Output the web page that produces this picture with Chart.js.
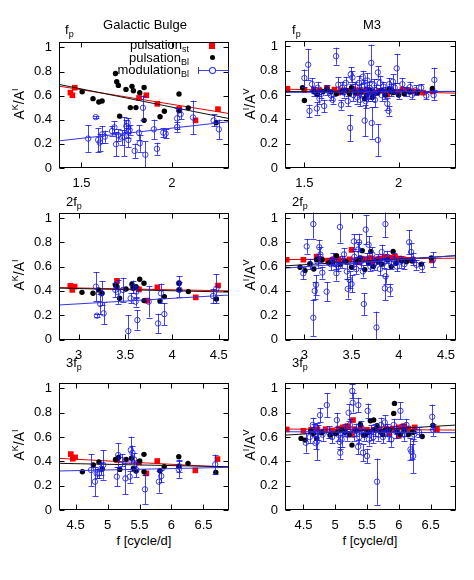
<!DOCTYPE html>
<html>
<head>
<meta charset="utf-8">
<script src="https://cdn.jsdelivr.net/npm/chart.js@4.4.1/dist/chart.umd.min.js"></script>
<style>
  body { margin: 0; background: #fff; }
  #page { position: relative; width: 474px; height: 580px; font-family: "Liberation Sans", Arial, sans-serif; color: #000; }
  canvas { position: absolute; }
  .lbl { position: absolute; font-size: 13px; white-space: nowrap; line-height: 15px; }
  .c { transform: translate(-50%, -50%); }
  .ylab { position: absolute; font-size: 14px; white-space: nowrap; transform: translate(-50%, -50%) rotate(-90deg); }
  .sub { font-size: 9px; position: relative; top: 3px; }
  .sup { font-size: 9px; position: relative; top: -6px; }
  .leg { position: absolute; right: 285px; font-size: 13px; text-align: right; white-space: nowrap; line-height: 13px; }
  .mk { position: absolute; }
</style>
</head>
<body>
<div id="page">
  <canvas id="bulgeF1" width="237" height="190" style="left:0;top:0"></canvas>
  <canvas id="m3F1" width="237" height="190" style="left:237px;top:0"></canvas>
  <canvas id="bulgeF2" width="237" height="170" style="left:0;top:190px"></canvas>
  <canvas id="m3F2" width="237" height="170" style="left:237px;top:190px"></canvas>
  <canvas id="bulgeF3" width="237" height="170" style="left:0;top:360px"></canvas>
  <canvas id="m3F3" width="237" height="170" style="left:237px;top:360px"></canvas>

  <!-- judul dan label -->
  <div class="lbl c" style="left:145px;top:24px">Galactic Bulge</div>
  <div class="lbl c" style="left:372px;top:24px">M3</div>
  <div class="lbl" style="left:65px;top:22px">f<span class="sub">p</span></div>
  <div class="lbl" style="left:292px;top:22px">f<span class="sub">p</span></div>
  <div class="lbl" style="left:66px;top:194px">2f<span class="sub">p</span></div>
  <div class="lbl" style="left:292px;top:194px">2f<span class="sub">p</span></div>
  <div class="lbl" style="left:66px;top:355px">3f<span class="sub">p</span></div>
  <div class="lbl" style="left:292px;top:355px">3f<span class="sub">p</span></div>

  <div class="ylab" style="left:19px;top:104px">A<span class="sup">K</span>/A<span class="sup">I</span></div>
  <div class="ylab" style="left:19px;top:275px">A<span class="sup">K</span>/A<span class="sup">I</span></div>
  <div class="ylab" style="left:19px;top:445px">A<span class="sup">K</span>/A<span class="sup">I</span></div>
  <div class="ylab" style="left:250px;top:104px">A<span class="sup">I</span>/A<span class="sup">V</span></div>
  <div class="ylab" style="left:250px;top:275px">A<span class="sup">I</span>/A<span class="sup">V</span></div>
  <div class="ylab" style="left:250px;top:445px">A<span class="sup">I</span>/A<span class="sup">V</span></div>

  <div class="lbl c" style="left:144px;top:540px">f [cycle/d]</div>
  <div class="lbl c" style="left:370px;top:540px">f [cycle/d]</div>

  <!-- legenda -->
  <div class="leg" style="top:38px">pulsation<span class="sub">st</span></div>
  <div class="leg" style="top:51px">pulsation<span class="sub">Bl</span></div>
  <div class="leg" style="top:63px">modulation<span class="sub">Bl</span></div>
  <div class="mk" style="left:209px;top:43px;width:6px;height:6px;background:#f00"></div>
  <div class="mk" style="left:210px;top:55px;width:5px;height:5px;border-radius:50%;background:#000"></div>
  <div class="mk" style="left:198px;top:70px;width:31px;height:1px;background:rgba(20,20,230,0.8)"></div>
  <div class="mk" style="left:198px;top:67px;width:1px;height:7px;background:rgba(20,20,230,0.8)"></div>
  <div class="mk" style="left:228px;top:67px;width:1px;height:7px;background:rgba(20,20,230,0.8)"></div>
  <div class="mk" style="left:209px;top:67px;width:5px;height:5px;border-radius:50%;border:1px solid rgba(20,20,230,0.9);background:#fff"></div>
</div>

<script>
// ===== Data: Galactic Bulge, f_p =====
const bulgeF1St = [[1.439,0.625],[1.45,0.603],[1.463,0.666],[1.818,0.581],[1.858,0.603],[1.919,0.532],[2.04,0.49],[2.13,0.395],[2.254,0.488]];
const bulgeF1Bl = [[1.504,0.633],[1.564,0.575],[1.596,0.548],[1.614,0.556],[1.688,0.784],[1.695,0.715],[1.704,0.685],[1.711,0.43],[1.746,0.652],[1.77,0.501],[1.779,0.677],[1.787,0.641],[1.801,0.501],[1.822,0.625],[1.846,0.668],[1.846,0.395],[1.934,0.425],[1.958,0.471],[2.039,0.614],[2.039,0.474],[2.09,0.499],[2.244,0.375]];
const bulgeF1Mod = [[1.537,0.244,0.11],[1.579,0.422,0.01],[1.592,0.233,0.1],[1.601,0.211,0.07],[1.614,0.279,0.07],[1.629,0.26,0.05],[1.669,0.307,0.04],[1.682,0.337,0.05],[1.691,0.197,0.1],[1.702,0.271,0.05],[1.724,0.252,0.06],[1.733,0.26,0.16],[1.748,0.348,0.05],[1.755,0.375,0.04],[1.757,0.301,0.05],[1.766,0.315,0.04],[1.759,0.233,0.06],[1.794,0.142,0.06],[1.818,0.293,0.06],[1.822,0.205,0.07],[1.84,0.499,0.1],[1.853,0.11,0.11],[1.9,0.321,0.08],[1.917,0.159,0.05],[1.952,0.293,0.04],[1.965,0.285,0.04],[2.029,0.34,0.04],[2.028,0.411,0.09],[2.048,0.447,0.04],[2.116,0.419,0.14],[2.23,0.395,0.05],[2.259,0.321,0.08]];
const bulgeF1Fit = { st: [[1.376,0.679],[2.315,0.452]], bl: [[1.376,0.693],[2.315,0.41]], mod: [[1.376,0.225],[2.315,0.384]] };

// ===== Data: M3, f_p =====
const m3F1St = [[1.41,0.652],[1.5,0.64],[1.55,0.645],[1.58,0.64],[1.62,0.66],[1.66,0.645],[1.68,0.62],[1.7,0.64],[1.73,0.635],[1.76,0.65],[1.78,0.615],[1.79,0.64],[1.81,0.63],[1.83,0.645],[1.86,0.63],[1.88,0.62],[1.9,0.635],[1.93,0.63],[1.94,0.605],[1.96,0.64],[1.99,0.625],[2.02,0.645],[2.05,0.64],[2.08,0.63],[2.1,0.625],[2.13,0.62],[2.18,0.63]];
const m3F1Bl = [[1.49,0.66],[1.5,0.555],[1.55,0.63],[1.57,0.605],[1.6,0.63],[1.62,0.65],[1.64,0.625],[1.67,0.61],[1.7,0.63],[1.72,0.64],[1.74,0.61],[1.75,0.66],[1.77,0.62],[1.8,0.63],[1.82,0.57],[1.83,0.6],[1.85,0.64],[1.86,0.58],[1.87,0.61],[1.89,0.62],[1.91,0.64],[1.93,0.6],[1.95,0.65],[1.96,0.63],[1.97,0.62],[2.0,0.6],[2.03,0.61],[2.06,0.625],[2.1,0.62],[2.18,0.655]];
const m3F1Mod = [[1.5,0.74,0.07],[1.52,0.85,0.13],[1.527,0.47,0.05],[1.54,0.69,0.05],[1.55,0.63,0.04],[1.566,0.49,0.05],[1.57,0.66,0.05],[1.58,0.57,0.04],[1.59,0.61,0.03],[1.605,0.51,0.05],[1.62,0.64,0.04],[1.64,0.6,0.04],[1.65,0.56,0.03],[1.668,0.92,0.07],[1.68,0.685,0.06],[1.695,0.52,0.04],[1.7,0.66,0.05],[1.71,0.62,0.04],[1.72,0.7,0.05],[1.73,0.55,0.04],[1.743,0.33,0.11],[1.746,0.77,0.06],[1.755,0.745,0.05],[1.76,0.6,0.05],[1.77,0.67,0.04],[1.78,0.58,0.05],[1.79,0.7,0.06],[1.795,0.56,0.05],[1.8,0.64,0.05],[1.81,0.75,0.05],[1.814,0.68,0.04],[1.82,0.39,0.13],[1.825,0.55,0.06],[1.83,0.62,0.05],[1.835,0.72,0.06],[1.84,0.59,0.04],[1.845,0.66,0.05],[1.855,0.865,0.15],[1.858,0.37,0.13],[1.86,0.6,0.05],[1.87,0.68,0.05],[1.875,0.56,0.06],[1.88,0.64,0.04],[1.89,0.786,0.05],[1.89,0.23,0.13],[1.9,0.7,0.06],[1.91,0.6,0.05],[1.92,0.67,0.04],[1.93,0.62,0.05],[1.94,0.53,0.05],[1.947,0.47,0.04],[1.95,0.69,0.05],[1.96,0.64,0.05],[1.97,0.71,0.06],[1.98,0.66,0.04],[1.99,0.82,0.12],[2.0,0.61,0.04],[2.02,0.69,0.05],[2.04,0.63,0.04],[2.06,0.665,0.04],[2.07,0.6,0.03],[2.09,0.64,0.04],[2.12,0.66,0.03],[2.147,0.595,0.03],[2.186,0.6,0.04],[2.19,0.725,0.1]];
const m3F1Fit = { st: [[1.397,0.649],[2.305,0.616]], bl: [[1.397,0.63],[2.305,0.63]], mod: [[1.397,0.622],[2.305,0.63]] };

// ===== Data: Galactic Bulge, 2f_p =====
const bulgeF2St = [[2.911,0.441],[2.932,0.408],[2.957,0.435],[3.411,0.482],[3.646,0.413],[3.736,0.32],[3.843,0.43],[4.254,0.347],[4.493,0.444]];
const bulgeF2Bl = [[3.036,0.388],[3.154,0.38],[3.214,0.408],[3.25,0.38],[3.393,0.449],[3.411,0.435],[3.439,0.339],[3.507,0.416],[3.571,0.455],[3.586,0.421],[3.614,0.435],[3.654,0.496],[3.7,0.463],[3.7,0.32],[3.871,0.317],[3.918,0.353],[4.075,0.463],[4.075,0.408],[4.175,0.394],[4.475,0.333]];
const bulgeF2Mod = [[3.186,0.435,0.12],[3.196,0.196,0.01],[3.232,0.292,0.08],[3.245,0.38,0.1],[3.268,0.215,0.09],[3.393,0.408,0.06],[3.42,0.39,0.1],[3.475,0.408,0.1],[3.532,0.069,0.13],[3.557,0.339,0.04],[3.582,0.435,0.05],[3.61,0.311,0.04],[3.618,0.394,0.05],[3.629,0.16,0.08],[3.75,0.311,0.13],[3.85,0.132,0.08],[3.882,0.38,0.08],[3.918,0.209,0.09],[4.075,0.463,0.06],[4.08,0.41,0.06],[4.439,0.358,0.06],[4.475,0.419,0.12]];
const bulgeF2Fit = { st: [[2.79,0.427],[4.61,0.4]], bl: [[2.79,0.423],[4.61,0.39]], mod: [[2.79,0.284],[4.61,0.366]] };

// ===== Data: M3, 2f_p =====
const m3F2St = [[2.813,0.656],[2.99,0.656],[3.13,0.683],[3.18,0.66],[3.25,0.65],[3.3,0.655],[3.36,0.66],[3.42,0.65],[3.48,0.66],[3.5,0.738],[3.55,0.655],[3.58,0.635],[3.6,0.665],[3.65,0.66],[3.7,0.67],[3.72,0.64],[3.75,0.66],[3.8,0.665],[3.85,0.68],[3.88,0.67],[3.92,0.675],[3.96,0.68],[4.0,0.665],[4.05,0.66],[4.1,0.655],[4.15,0.655],[4.35,0.65]];
const m3F2Bl = [[2.954,0.595],[3.007,0.567],[3.06,0.623],[3.1,0.58],[3.13,0.656],[3.19,0.656],[3.26,0.63],[3.3,0.635],[3.34,0.69],[3.38,0.62],[3.44,0.64],[3.5,0.595],[3.55,0.64],[3.59,0.67],[3.613,0.73],[3.64,0.575],[3.68,0.63],[3.704,0.724],[3.73,0.6],[3.78,0.64],[3.82,0.62],[3.88,0.655],[3.92,0.6],[3.94,0.724],[3.97,0.63],[4.03,0.645],[4.08,0.64],[4.14,0.645],[4.24,0.62],[4.345,0.67]];
const m3F2Mod = [[2.99,0.545,0.05],[3.025,0.766,0.06],[3.06,0.62,0.04],[3.095,0.179,0.15],[3.095,0.95,0.12],[3.11,0.4,0.07],[3.123,0.45,0.08],[3.14,0.64,0.05],[3.158,0.76,0.06],[3.17,0.7,0.06],[3.19,0.55,0.05],[3.236,0.394,0.08],[3.28,0.62,0.05],[3.3,0.66,0.05],[3.33,0.62,0.04],[3.34,0.545,0.06],[3.36,0.6,0.04],[3.377,0.926,0.13],[3.4,0.64,0.05],[3.42,0.7,0.05],[3.45,0.56,0.06],[3.46,0.416,0.08],[3.48,0.49,0.07],[3.5,0.457,0.07],[3.51,0.62,0.04],[3.525,0.807,0.06],[3.53,0.68,0.05],[3.55,0.58,0.04],[3.57,0.74,0.06],[3.58,0.8,0.07],[3.6,0.64,0.05],[3.62,0.56,0.05],[3.63,0.292,0.09],[3.65,0.904,0.12],[3.66,0.66,0.05],[3.68,0.78,0.07],[3.7,0.6,0.04],[3.72,0.7,0.06],[3.74,0.62,0.05],[3.764,0.099,0.13],[3.78,0.66,0.04],[3.8,0.58,0.05],[3.82,0.72,0.06],[3.84,0.63,0.04],[3.852,0.421,0.1],[3.859,0.95,0.11],[3.86,0.52,0.06],[3.88,0.68,0.05],[3.905,0.41,0.05],[3.92,0.62,0.04],[3.95,0.66,0.05],[3.98,0.6,0.04],[4.02,0.64,0.05],[4.06,0.62,0.04],[4.11,0.8,0.1],[4.13,0.72,0.07],[4.15,0.66,0.05],[4.187,0.614,0.04],[4.246,0.595,0.04],[4.363,0.656,0.06]];
const m3F2Fit = { st: [[2.795,0.658],[4.606,0.669]], bl: [[2.795,0.606],[4.606,0.689]], mod: [[2.795,0.587],[4.606,0.691]] };

// ===== Data: Galactic Bulge, 3f_p =====
const bulgeF3St = [[4.425,0.46],[4.456,0.422],[4.492,0.433],[5.15,0.411],[5.492,0.392],[5.606,0.301],[5.777,0.403],[6.373,0.326],[6.72,0.419]];
const bulgeF3Bl = [[4.606,0.315],[4.777,0.37],[4.865,0.395],[4.917,0.337],[5.124,0.416],[5.171,0.433],[5.192,0.334],[5.29,0.416],[5.373,0.427],[5.404,0.342],[5.446,0.32],[5.503,0.403],[5.57,0.458],[5.57,0.315],[5.819,0.323],[5.886,0.356],[6.114,0.438],[6.114,0.356],[6.259,0.384],[6.694,0.31]];
const bulgeF3Mod = [[4.741,0.329,0.13],[4.803,0.233,0.12],[4.829,0.301,0.04],[4.865,0.301,0.04],[4.9,0.34,0.05],[4.933,0.37,0.12],[5.145,0.274,0.08],[5.166,0.452,0.1],[5.223,0.411,0.05],[5.28,0.26,0.13],[5.347,0.274,0.05],[5.363,0.493,0.11],[5.39,0.47,0.06],[5.415,0.416,0.05],[5.451,0.329,0.06],[5.585,0.17,0.12],[5.803,0.233,0.09],[5.84,0.279,0.05],[6.114,0.334,0.07],[6.12,0.36,0.05],[6.684,0.375,0.08]];
const bulgeF3Fit = { st: [[4.24,0.425],[6.9,0.351]], bl: [[4.24,0.384],[6.9,0.356]], mod: [[4.24,0.321],[6.9,0.351]] };

// ===== Data: M3, 3f_p =====
const m3F3St = [[4.237,0.663],[4.5,0.652],[4.62,0.66],[4.72,0.665],[4.85,0.665],[4.95,0.655],[5.05,0.67],[5.12,0.68],[5.19,0.69],[5.25,0.62],[5.28,0.74],[5.3,0.665],[5.4,0.67],[5.5,0.66],[5.6,0.66],[5.7,0.665],[5.8,0.67],[5.85,0.63],[5.9,0.67],[6.0,0.68],[6.0,0.61],[6.08,0.69],[6.15,0.67],[6.25,0.68],[6.6,0.665]];
const m3F3Bl = [[4.463,0.589],[4.526,0.575],[4.616,0.649],[4.658,0.63],[4.71,0.589],[4.79,0.636],[4.92,0.616],[5.0,0.63],[5.026,0.636],[5.105,0.658],[5.15,0.64],[5.22,0.62],[5.263,0.534],[5.33,0.65],[5.395,0.704],[5.447,0.616],[5.48,0.62],[5.52,0.64],[5.553,0.734],[5.605,0.74],[5.62,0.66],[5.658,0.693],[5.711,0.641],[5.75,0.62],[5.79,0.658],[5.85,0.66],[5.92,0.795],[5.932,0.877],[5.974,0.641],[6.026,0.62],[6.08,0.65],[6.15,0.62],[6.21,0.641],[6.23,0.64],[6.368,0.605],[6.537,0.696]];
const m3F3Mod = [[4.537,0.553,0.08],[4.6,0.6,0.05],[4.647,0.7,0.06],[4.66,0.66,0.05],[4.69,0.55,0.05],[4.71,0.562,0.15],[4.73,0.64,0.06],[4.76,0.78,0.06],[4.8,0.62,0.05],[4.868,0.863,0.1],[4.9,0.64,0.05],[4.95,0.6,0.05],[5.026,0.74,0.06],[5.05,0.62,0.05],[5.07,0.56,0.06],[5.079,0.471,0.05],[5.1,0.58,0.06],[5.15,0.66,0.05],[5.18,0.62,0.05],[5.21,0.8,0.07],[5.23,0.7,0.05],[5.268,0.98,0.06],[5.274,0.882,0.08],[5.29,0.62,0.05],[5.32,0.66,0.05],[5.36,0.52,0.06],[5.363,0.863,0.06],[5.38,0.6,0.05],[5.41,0.68,0.05],[5.437,0.471,0.07],[5.46,0.62,0.05],[5.5,0.444,0.06],[5.51,0.816,0.06],[5.53,0.58,0.05],[5.56,0.64,0.06],[5.6,0.6,0.05],[5.63,0.66,0.05],[5.658,0.233,0.19],[5.68,0.62,0.05],[5.72,0.7,0.06],[5.75,0.6,0.05],[5.78,0.72,0.06],[5.82,0.66,0.05],[5.85,0.62,0.05],[5.88,0.58,0.06],[5.92,0.7,0.05],[5.96,0.64,0.05],[6.026,0.816,0.07],[6.05,0.66,0.05],[6.08,0.62,0.05],[6.12,0.7,0.05],[6.184,0.499,0.09],[6.2,0.48,0.06],[6.226,0.444,0.14],[6.24,0.62,0.05],[6.32,0.64,0.04],[6.526,0.767,0.1],[6.54,0.66,0.05]];
const m3F3Fit = { st: [[4.21,0.666],[6.9,0.658]], bl: [[4.21,0.616],[6.9,0.699]], mod: [[4.21,0.644],[6.9,0.636]] };

// tick labels
const yTickVals = [0, 0.2, 0.4, 0.6, 0.8, 1];
const xTicksF1 = [1.5, 2];
const xTicksF2 = [3, 3.5, 4, 4.5];
const xTicksF3 = [4.5, 5, 5.5, 6, 6.5];

const RED = "#f00";
const BLACK = "#000";
const BLUE = "rgba(20,20,230,0.8)";

// Plugin: error bar vertikal untuk data modulation
const errorBarPlugin = {
  id: "errorBars",
  beforeDatasetDraw(chart, args) {
    const ds = chart.data.datasets[args.index];
    if (!ds.errorBars) return;
    const { ctx, chartArea: a } = chart;
    const xs = chart.scales.x, ys = chart.scales.y;
    ctx.save();
    ctx.beginPath();
    ctx.rect(a.left, a.top, a.right - a.left, a.bottom - a.top);
    ctx.clip();
    ctx.strokeStyle = BLUE;
    ctx.lineWidth = 1;
    ds.data.forEach(p => {
      const x = Math.round(xs.getPixelForValue(p.x)) + 0.5;
      const y1 = ys.getPixelForValue(p.y - p.err);
      const y2 = ys.getPixelForValue(p.y + p.err);
      ctx.beginPath();
      ctx.moveTo(x, y1); ctx.lineTo(x, y2);
      ctx.moveTo(x - 3, Math.round(y1) + 0.5); ctx.lineTo(x + 3, Math.round(y1) + 0.5);
      ctx.moveTo(x - 3, Math.round(y2) + 0.5); ctx.lineTo(x + 3, Math.round(y2) + 0.5);
      ctx.stroke();
    });
    ctx.restore();
  }
};

// Plugin: bingkai dan tick ke dalam (gaya gnuplot)
const framePlugin = {
  id: "frame",
  afterDraw(chart) {
    const { ctx, chartArea: a } = chart;
    const xs = chart.scales.x, ys = chart.scales.y;
    const L = Math.round(a.left) + 0.5, R = Math.round(a.right) - 0.5;
    const T = Math.round(a.top) + 0.5, B = Math.round(a.bottom) - 0.5;
    ctx.save();
    ctx.strokeStyle = "#000";
    ctx.lineWidth = 1;
    ctx.strokeRect(L, T, R - L, B - T);
    ctx.beginPath();
    xs.ticks.forEach(t => {
      const x = Math.round(xs.getPixelForValue(t.value)) + 0.5;
      ctx.moveTo(x, B); ctx.lineTo(x, B - 5);
      ctx.moveTo(x, T); ctx.lineTo(x, T + 5);
    });
    ys.ticks.forEach(t => {
      const y = Math.round(ys.getPixelForValue(t.value)) + 0.5;
      ctx.moveTo(L, y); ctx.lineTo(L + 5, y);
      ctx.moveTo(R, y); ctx.lineTo(R - 5, y);
    });
    ctx.stroke();
    ctx.restore();
  }
};

const toXY = arr => arr.map(p => ({ x: p[0], y: p[1] }));

// Membuat satu panel grafik
function makePanel(id, st, bl, mod, fit, xMin, xMax, xTicks, layout) {
  const ctx = document.getElementById(id).getContext("2d");
  const fitLine = (pts, color, order) => ({
    data: toXY(pts), showLine: true, borderColor: color, borderWidth: 1,
    pointRadius: 0, fill: false, order: order
  });
  return new Chart(ctx, {
    type: "scatter",
    data: {
      datasets: [
        { data: toXY(st), pointStyle: "rect", pointRadius: 4, backgroundColor: RED, borderColor: RED, borderWidth: 0, order: 6 },
        fitLine(fit.st, "#e00000", 5),
        { data: toXY(bl), pointStyle: "circle", pointRadius: 2.7, backgroundColor: BLACK, borderColor: BLACK, borderWidth: 0, order: 4 },
        fitLine(fit.bl, "#111", 3),
        { data: mod.map(p => ({ x: p[0], y: p[1], err: p[2] })), errorBars: true, pointStyle: "circle", pointRadius: 2.7,
          backgroundColor: "rgba(0,0,0,0)", borderColor: BLUE, borderWidth: 1, order: 2 },
        fitLine(fit.mod, "rgb(50,50,230)", 1)
      ]
    },
    options: {
      responsive: false,
      animation: false,
      events: [],
      layout: { padding: { top: layout.top, right: layout.right, left: 0, bottom: 0 } },
      plugins: { legend: { display: false }, tooltip: { enabled: false } },
      scales: {
        x: {
          type: "linear", min: xMin, max: xMax,
          grid: { display: false, drawTicks: false },
          border: { display: false },
          afterBuildTicks: s => { s.ticks = xTicks.map(v => ({ value: v })); },
          afterFit: s => { s.height = layout.xh; },
          ticks: { padding: 8, color: "#000", maxRotation: 0, autoSkip: false,
                   font: { family: "'Liberation Sans', Arial, sans-serif", size: 13 },
                   callback: v => String(v) }
        },
        y: {
          type: "linear", min: 0, max: 1.045,
          grid: { display: false, drawTicks: false },
          border: { display: false },
          afterBuildTicks: s => { s.ticks = yTickVals.map(v => ({ value: v })); },
          afterFit: s => { s.width = layout.yw; },
          ticks: { padding: 7, color: "#000", autoSkip: false,
                   font: { family: "'Liberation Sans', Arial, sans-serif", size: 13 },
                   callback: v => String(v) }
        }
      }
    },
    plugins: [errorBarPlugin, framePlugin]
  });
}

const leftRow1 = { top: 42, right: 8, yw: 59, xh: 22 };
const rightRow1 = { top: 41, right: 18, yw: 48, xh: 22 };
const leftRow = { top: 22.5, right: 8, yw: 59, xh: 20.5 };
const rightRow = { top: 22.5, right: 18, yw: 48, xh: 20.5 };
const leftRow3 = { top: 23, right: 8, yw: 59, xh: 20 };
const rightRow3 = { top: 23, right: 18, yw: 48, xh: 20 };

makePanel("bulgeF1", bulgeF1St, bulgeF1Bl, bulgeF1Mod, bulgeF1Fit, 1.376, 2.315, xTicksF1, leftRow1);
makePanel("m3F1", m3F1St, m3F1Bl, m3F1Mod, m3F1Fit, 1.397, 2.305, xTicksF1, rightRow1);
makePanel("bulgeF2", bulgeF2St, bulgeF2Bl, bulgeF2Mod, bulgeF2Fit, 2.79, 4.61, xTicksF2, leftRow);
makePanel("m3F2", m3F2St, m3F2Bl, m3F2Mod, m3F2Fit, 2.795, 4.606, xTicksF2, rightRow);
makePanel("bulgeF3", bulgeF3St, bulgeF3Bl, bulgeF3Mod, bulgeF3Fit, 4.24, 6.9, xTicksF3, leftRow3);
makePanel("m3F3", m3F3St, m3F3Bl, m3F3Mod, m3F3Fit, 4.21, 6.9, xTicksF3, rightRow3);
</script>
</body>
</html>
